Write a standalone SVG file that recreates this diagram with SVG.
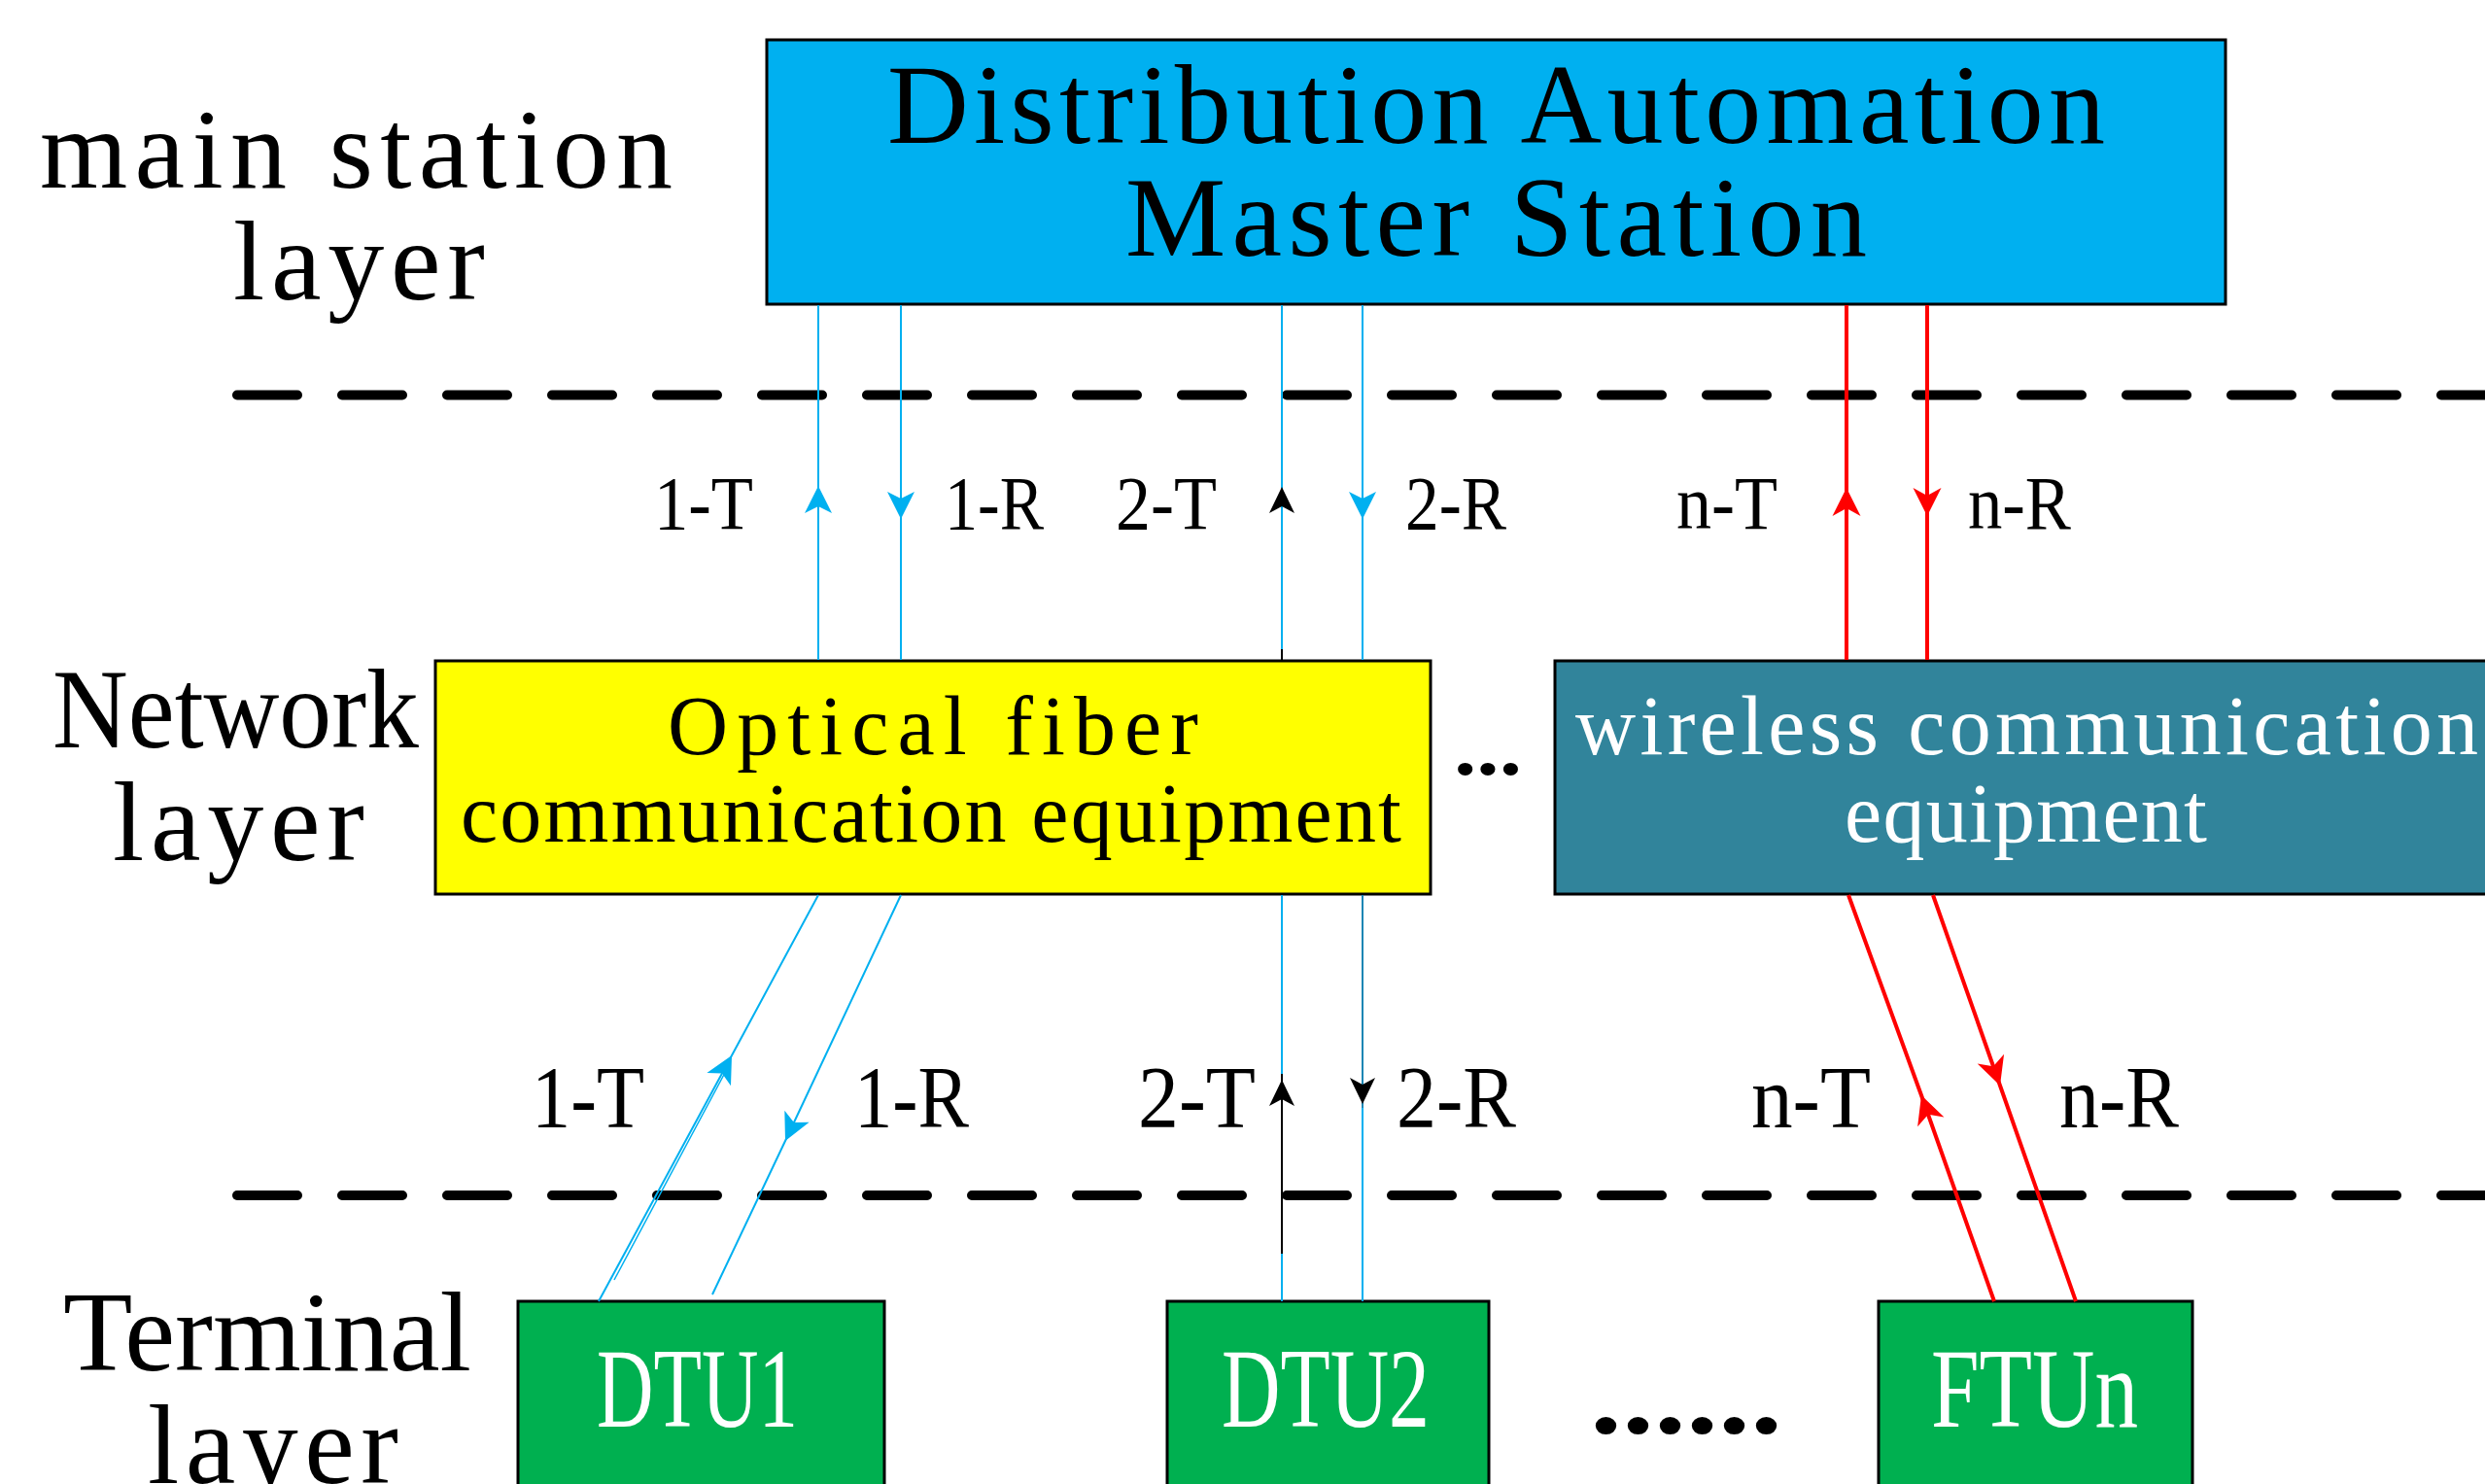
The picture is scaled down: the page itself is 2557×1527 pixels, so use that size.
<svg xmlns="http://www.w3.org/2000/svg" width="2557" height="1527" viewBox="0 0 2557 1527">
<defs>
<style>
.box{stroke:#000;stroke-width:3}
.t{font-family:"Liberation Serif","DejaVu Serif",serif;fill:#000}
.big{font-size:116px}
.mid{font-size:86px}
.lt{font-size:79px}
.lb{font-size:90px}
.w{fill:#fff}
.dash{fill:none;stroke:#000;stroke-width:10;stroke-linecap:round;stroke-dasharray:62 46}
.bl{fill:none;stroke:#00B0F0;stroke-width:2}
.bk{fill:none;stroke:#000;stroke-width:2}
.rd{fill:none;stroke:#FF0000;stroke-width:4}
</style>
<marker id="ab" viewBox="-32 -16 34 32" markerWidth="34" markerHeight="32" refX="0" refY="0" orient="auto" markerUnits="userSpaceOnUse"><path d="M0,0 L-28,-14 L-21,0 L-28,14 Z" fill="#00B0F0"/></marker>
<marker id="ak" viewBox="-32 -16 34 32" markerWidth="34" markerHeight="32" refX="0" refY="0" orient="auto" markerUnits="userSpaceOnUse"><path d="M0,0 L-27,-13 L-20,0 L-27,13 Z" fill="#000"/></marker>
<marker id="ar" viewBox="-32 -16 34 32" markerWidth="34" markerHeight="32" refX="0" refY="0" orient="auto" markerUnits="userSpaceOnUse"><path d="M0,0 L-29,-14.5 L-21,0 L-29,14.5 Z" fill="#FF0000"/></marker>
</defs>
<rect width="2557" height="1527" fill="#fff"/>

<g id="layer-lines">
<line class="dash" x1="244" y1="406.5" x2="2600" y2="406.5"/>
<line class="dash" x1="244" y1="1230" x2="2600" y2="1230"/>
</g>

<g id="layer-labels">
<text class="t big" x="41" y="193" textLength="651">main station</text>
<text class="t big" x="240" y="308" textLength="259">layer</text>
<text class="t big" x="54" y="769" textLength="377" lengthAdjust="spacingAndGlyphs">Network</text>
<text class="t big" x="116" y="885" textLength="259">layer</text>
<text class="t big" x="65" y="1410" textLength="420" lengthAdjust="spacingAndGlyphs">Terminal</text>
<text class="t big" x="152" y="1526" textLength="258">layer</text>
</g>

<g id="master">
<rect class="box" x="789" y="41" width="1501" height="272" fill="#00B0F0"/>
<text class="t big" x="913" y="147" textLength="1253">Distribution Automation</text>
<text class="t big" x="1158" y="263" textLength="763">Master Station</text>
</g>

<g id="optical">
<rect class="box" x="448" y="680" width="1024" height="240" fill="#FFFF00"/>
<text class="t mid" x="687" y="776" textLength="546">Optical fiber</text>
<text class="t mid" x="474" y="866" textLength="968">communication equipment</text>
</g>

<g id="ellipsis1">
<text class="t" x="1496" y="797" font-size="80" font-weight="bold" textLength="70" lengthAdjust="spacingAndGlyphs">...</text>
</g>

<g id="wireless">
<rect class="box" x="1600" y="680" width="990" height="240" fill="#31849B"/>
<text class="t mid w" x="1621" y="776" textLength="929">wireless communication</text>
<text class="t mid w" x="1898" y="866" textLength="373">equipment</text>
</g>

<g id="dtu1">
<rect class="box" x="533" y="1339" width="377" height="220" fill="#00B050"/>
<text class="t big w" x="614" y="1468" textLength="207" lengthAdjust="spacingAndGlyphs">DTU1</text>
</g>
<g id="dtu2">
<rect class="box" x="1201" y="1339" width="331" height="220" fill="#00B050"/>
<text class="t big w" x="1257" y="1468" textLength="214" lengthAdjust="spacingAndGlyphs">DTU2</text>
</g>
<g id="ellipsis2">
<text class="t" x="1636" y="1474" font-size="110" font-weight="bold" textLength="198" lengthAdjust="spacingAndGlyphs">......</text>
</g>
<g id="ftun">
<rect class="box" x="1933" y="1339" width="323" height="220" fill="#00B050"/>
<text class="t big w" x="1987" y="1468" textLength="213" lengthAdjust="spacingAndGlyphs">FTUn</text>
</g>

<g id="connectors">
<path class="bl" d="M842,679 L842,500 L842,314" marker-mid="url(#ab)"/>
<path class="bl" d="M927,314 L927,534 L927,679" marker-mid="url(#ab)"/>
<path class="bl" d="M1319,670 L1319,501 L1319,314" marker-mid="url(#ak)"/>
<line class="bk" x1="1319" y1="668" x2="1319" y2="679"/>
<path class="bl" d="M1402,314 L1402,534 L1402,679" marker-mid="url(#ab)"/>
<path class="rd" d="M1900,679 L1900,502 L1900,314" marker-mid="url(#ar)"/>
<path class="rd" d="M1983,314 L1983,531 L1983,679" marker-mid="url(#ar)"/>
<path class="bl" d="M616,1339 L753,1086 L842,921" marker-mid="url(#ab)"/>
<line class="bl" x1="632" y1="1317" x2="748" y2="1100" style="stroke-width:1.5"/>
<path class="bl" d="M927,921 L808,1174 L733,1332" marker-mid="url(#ab)"/>
<line class="bl" x1="1319" y1="1339" x2="1319" y2="921"/>
<path class="bk" d="M1319,1290 L1319,1111 L1319,1105" marker-mid="url(#ak)"/>
<line class="bl" x1="1402" y1="1339" x2="1402" y2="1136"/>
<path class="bk" d="M1402,921 L1402,1136 L1402,1140" style="stroke:#1A86B4" marker-mid="url(#ak)"/>
<path class="rd" d="M2052,1339 L1977,1127 L1902,921" marker-mid="url(#ar)"/>
<path class="rd" d="M1989,921 L2058,1117 L2136,1339" marker-mid="url(#ar)"/>
</g>

<g id="connector-labels">
<text class="t lt" x="673" y="544" textLength="102" lengthAdjust="spacingAndGlyphs">1-T</text>
<text class="t lt" x="972" y="544" textLength="102" lengthAdjust="spacingAndGlyphs">1-R</text>
<text class="t lt" x="1148" y="544" textLength="104" lengthAdjust="spacingAndGlyphs">2-T</text>
<text class="t lt" x="1446" y="544" textLength="104" lengthAdjust="spacingAndGlyphs">2-R</text>
<text class="t lt" x="1725" y="544" textLength="104" lengthAdjust="spacingAndGlyphs">n-T</text>
<text class="t lt" x="2025" y="544" textLength="106" lengthAdjust="spacingAndGlyphs">n-R</text>
<text class="t lb" x="547" y="1160" textLength="116" lengthAdjust="spacingAndGlyphs">1-T</text>
<text class="t lb" x="879" y="1160" textLength="118" lengthAdjust="spacingAndGlyphs">1-R</text>
<text class="t lb" x="1171" y="1160" textLength="121" lengthAdjust="spacingAndGlyphs">2-T</text>
<text class="t lb" x="1437" y="1160" textLength="123" lengthAdjust="spacingAndGlyphs">2-R</text>
<text class="t lb" x="1802" y="1160" textLength="123" lengthAdjust="spacingAndGlyphs">n-T</text>
<text class="t lb" x="2119" y="1160" textLength="123" lengthAdjust="spacingAndGlyphs">n-R</text>
</g>
</svg>
